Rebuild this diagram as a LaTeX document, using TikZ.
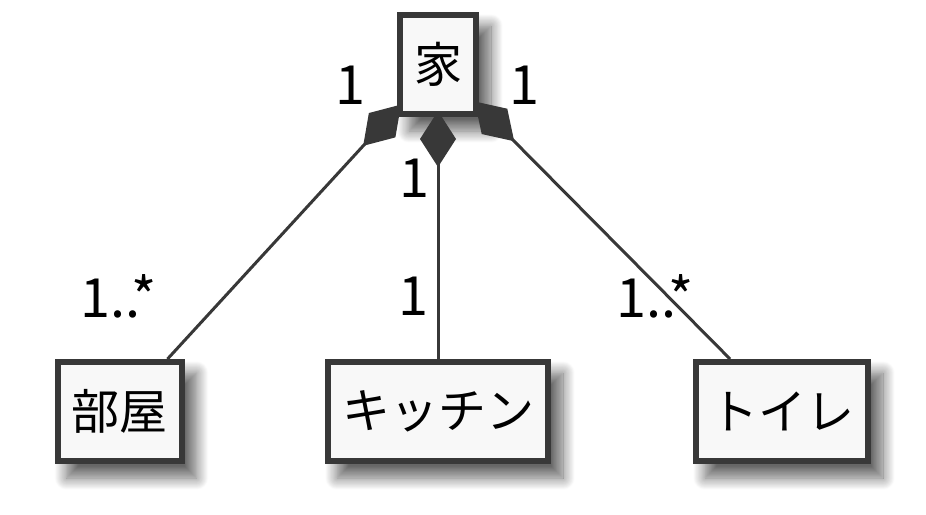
\documentclass[tikz,border=0pt]{standalone}
\usepackage{fontspec}
\setmainfont{Noto Sans CJK JP}
\usetikzlibrary{arrows.meta, shadows.blur}
\definecolor{umlline}{HTML}{383838}
\definecolor{umlfill}{HTML}{F8F8F8}
\pgfdeclarelayer{shade}
\pgfdeclarelayer{wire}
\pgfsetlayers{shade,wire,main}

\begin{document}
\begin{tikzpicture}[
  x=1pt, y=-1pt,
  cls/.style={draw=umlline, fill=umlfill, line width=6pt, minimum height=99pt, inner xsep=14pt, font=\fontsize{48}{52}\selectfont},
  comp/.style={umlline, line width=3pt, shorten >=-6pt, -{Diamond[length=56pt,width=36pt]}},
  mult/.style={inner sep=0pt, font=\fontsize{54}{58}\selectfont},
  soft/.style={blur shadow={shadow xshift=12pt, shadow yshift=-14pt, shadow blur radius=12pt, shadow blur steps=16, shadow opacity=60}}
]
\useasboundingbox (0,0) rectangle (926,514);
% classes
\node[cls] (ie) at (438,64.5) {家};
\node[cls] (heya) at (119.5,411.5) {部屋};
\node[cls] (kitchen) at (438,411.5) {キッチン};
\node[cls] (toilet) at (782,411.5) {トイレ};

% shadows behind everything
\begin{pgfonlayer}{shade}
\foreach \n in {ie,heya,kitchen,toilet}
  \path[soft] (\n.south west) rectangle (\n.north east);
\end{pgfonlayer}

% compositions
\begin{pgfonlayer}{wire}
\draw[comp] (heya) -- (ie);
\draw[comp] (kitchen) -- (ie);
\draw[comp] (toilet) -- (ie);
\end{pgfonlayer}

% multiplicities
\node[mult] (m1) at (350,85) {1};
\node[mult] (m2) at (524,85) {1};
\node[mult] (m3) at (414,178) {1};
\node[mult] (m4) at (413,296) {1};
\node[mult] (m5) at (118.5,296) {1..*};
\node[mult] (m6) at (655,296) {1..*};
\end{tikzpicture}
\end{document}
